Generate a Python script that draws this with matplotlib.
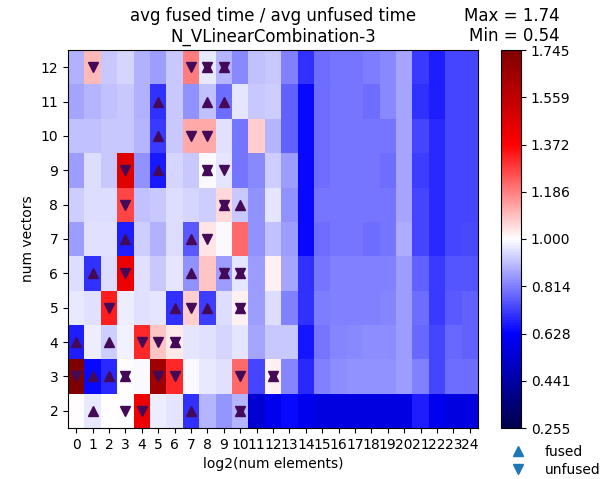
import numpy as np
import matplotlib
matplotlib.use("Agg")
import matplotlib.pyplot as plt
from matplotlib.lines import Line2D

log2_elems = list(range(25))
num_vectors = list(range(2, 13))

# ratio avg fused / avg unfused, one row per num vectors (2 .. 12), columns log2 0 .. 24
ratio = {
    2:  [1.005, 0.97, 1.005, 0.995, 1.42, 0.975, 0.96, 0.70, 0.89, 0.845, 0.895, 0.54, 0.595,
         0.645, 0.595, 0.565, 0.565, 0.565, 0.565, 0.565, 0.57, 0.674, 0.595, 0.565, 0.565],
    3:  [1.74, 0.64, 0.69, 0.995, 0.99, 1.65, 1.31, 0.99, 0.97, 0.955, 1.22, 0.73, 1.02,
         0.82, 0.686, 0.814, 0.835, 0.84, 0.84, 0.84, 0.86, 0.814, 0.73, 0.79, 0.79],
    4:  [0.674, 0.975, 0.93, 0.98, 1.31, 1.086, 1.034, 0.96, 0.955, 0.94, 0.965, 0.87, 0.92,
         0.92, 0.66, 0.80, 0.82, 0.83, 0.835, 0.835, 0.855, 0.78, 0.73, 0.78, 0.77],
    5:  [0.97, 0.955, 1.326, 0.975, 0.955, 0.965, 0.70, 1.07, 0.72, 0.95, 1.02, 0.86, 0.95,
         0.814, 0.70, 0.81, 0.814, 0.814, 0.814, 0.82, 0.855, 0.79, 0.71, 0.76, 0.77],
    6:  [0.95, 0.70, 0.95, 1.417, 0.955, 0.92, 0.96, 0.84, 1.086, 0.86, 0.96, 0.86, 1.02,
         0.87, 0.70, 0.80, 0.814, 0.814, 0.814, 0.814, 0.86, 0.77, 0.71, 0.75, 0.755],
    7:  [0.86, 0.955, 0.955, 0.674, 0.93, 0.885, 0.95, 0.76, 1.04, 0.99, 1.22, 0.84, 0.91,
         0.855, 0.64, 0.79, 0.80, 0.80, 0.79, 0.80, 0.88, 0.73, 0.686, 0.73, 0.735],
    8:  [0.93, 0.95, 0.95, 1.27, 0.91, 0.92, 0.95, 0.94, 0.93, 1.056, 0.92, 0.84, 0.96,
         0.84, 0.64, 0.80, 0.80, 0.80, 0.80, 0.80, 0.87, 0.73, 0.69, 0.73, 0.73],
    9:  [0.86, 0.95, 0.92, 1.46, 0.84, 0.665, 0.94, 0.92, 0.99, 0.96, 0.80, 0.83, 0.93,
         0.86, 0.64, 0.79, 0.80, 0.80, 0.80, 0.79, 0.87, 0.72, 0.686, 0.73, 0.73],
    10: [0.91, 0.91, 0.92, 0.92, 0.895, 0.71, 0.92, 1.127, 1.127, 0.955, 0.80, 1.07, 0.895,
         0.77, 0.64, 0.79, 0.80, 0.80, 0.80, 0.80, 0.87, 0.73, 0.686, 0.73, 0.73],
    11: [0.87, 0.895, 0.91, 0.92, 0.885, 0.70, 0.92, 0.84, 0.91, 0.79, 0.96, 0.92, 0.93,
         0.77, 0.64, 0.79, 0.80, 0.80, 0.79, 0.83, 0.87, 0.70, 0.674, 0.73, 0.73],
    12: [0.885, 1.10, 0.92, 0.94, 0.885, 0.86, 0.92, 1.19, 0.97, 0.89, 0.83, 0.91, 0.92,
         0.814, 0.70, 0.79, 0.80, 0.80, 0.81, 0.83, 0.87, 0.71, 0.674, 0.73, 0.73],
}

# cells (log2 elements, num vectors) where fused / unfused was marked
fused_cells = [(8, 12), (9, 12), (5, 11), (8, 11), (9, 11), (5, 10), (5, 9), (8, 9),
               (9, 8), (10, 8), (3, 7), (7, 7), (1, 6), (7, 6), (9, 6), (10, 6),
               (6, 5), (8, 5), (10, 5), (0, 4), (2, 4), (6, 4),
               (1, 3), (2, 3), (3, 3), (12, 3), (1, 2), (7, 2), (10, 2)]
unfused_cells = [(1, 12), (7, 12), (8, 12), (9, 12), (7, 10), (8, 10), (3, 9), (8, 9), (9, 9),
                 (3, 8), (9, 8), (8, 7), (3, 6), (9, 6), (10, 6), (2, 5), (7, 5), (10, 5),
                 (4, 4), (5, 4), (6, 4), (0, 3), (3, 3), (5, 3), (6, 3), (10, 3), (12, 3),
                 (3, 2), (4, 2), (10, 2)]

vmin, vmax = 0.2551, 1.7449
data = np.array([ratio[n] for n in num_vectors])

fig = plt.figure(figsize=(6.13, 4.79), dpi=100)
ax = fig.add_axes([68 / 613, 51 / 479, 410 / 613, 378 / 479])
cax = fig.add_axes([501 / 613, 51 / 479, 20 / 613, 378 / 479])

im = ax.imshow(data, origin='lower', cmap='seismic', vmin=vmin, vmax=vmax, aspect='auto',
               extent=(-0.5, len(log2_elems) - 0.5, num_vectors[0] - 0.5, num_vectors[-1] + 0.5))

mk = '#440a58'
fx, fy = zip(*fused_cells)
ux, uy = zip(*unfused_cells)
ax.plot(fx, fy, '^', color=mk, markersize=7, linestyle='none')
ax.plot(ux, uy, 'v', color=mk, markersize=7, linestyle='none')

ax.set_xticks(log2_elems)
ax.set_yticks(num_vectors)
ax.set_xlabel('log2(num elements)')
ax.set_ylabel('num vectors')
ax.set_title('avg fused time / avg unfused time\nN_VLinearCombination-3', fontsize=12)

cb = fig.colorbar(im, cax=cax)
cticks = np.linspace(vmin, vmax, 9)
cb.set_ticks(cticks)
cb.set_ticklabels(['%.3f' % t for t in cticks])

fig.text(560 / 613, 1 - 26 / 479, 'Max = %.2f\nMin = %.2f' % (data.max(), data.min()),
         ha='right', va='center', fontsize=12)

handles = [Line2D([], [], marker='^', color='#1f77b4', linestyle='none', markersize=7),
           Line2D([], [], marker='v', color='#1f77b4', linestyle='none', markersize=7)]
fig.legend(handles, ['fused', 'unfused'], loc='upper left',
           bbox_to_anchor=(510 / 613, 1 - 445 / 479), frameon=False, fontsize=10,
           handlelength=1.2, handletextpad=1.3, labelspacing=0.3, borderpad=0,
           borderaxespad=0)

fig.savefig('out.png', dpi=100)
